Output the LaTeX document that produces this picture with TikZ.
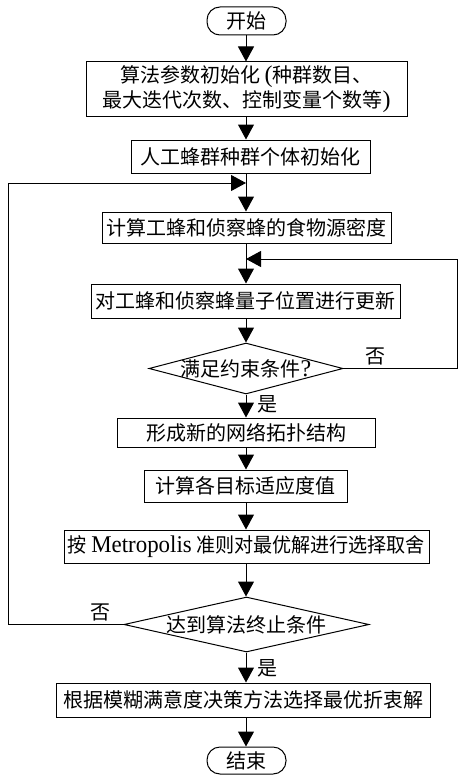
\documentclass[tikz,border=0pt]{standalone}
\usepackage{fontspec}
\usepackage{graphicx}
\setmainfont{Liberation Serif}
\newfontfamily\cjk{Noto Sans CJK SC}
\usetikzlibrary{arrows.meta,shapes.geometric}
\newcommand{\lt}[1]{{\rmfamily\fontsize{24}{24}\selectfont #1}}
\begin{document}
\begin{tikzpicture}[x=1pt,y=-1pt,line width=1pt,
  every node/.style={font=\cjk\fontsize{20}{25}\selectfont},
  proc/.style={draw,rectangle,inner sep=0pt,align=center},
  term/.style={draw,rectangle,rounded corners=13pt,inner sep=0pt},
  dec/.style={draw,diamond,inner sep=0pt},
  arr/.style={-{Triangle[length=15pt,width=16pt]}},
  lbl/.style={inner sep=0pt}]
\useasboundingbox (0,0) rectangle (458,776);
\node[term,minimum width=79pt,minimum height=28pt] (st) at (246.5,21) {开始};
\node[proc,minimum width=321pt,minimum height=54pt] (b1) at (246.5,89) {算法参数初始化 \lt{(}种群数目、\\最大迭代次数、控制变量个数等\lt{)}};
\node[proc,minimum width=239pt,minimum height=33pt] (b2) at (250.5,156.5) {人工蜂群种群个体初始化};
\node[proc,minimum width=289pt,minimum height=31pt] (b3) at (246.5,227.5) {计算工蜂和侦察蜂的食物源密度};
\node[proc,minimum width=309pt,minimum height=34pt] (b4) at (245.5,301) {对工蜂和侦察蜂量子位置进行更新};
\node[dec,minimum width=194pt,minimum height=51pt] (d1) at (246,368.5) {\makebox[0pt]{满足约束条件\lt{?}}};
\node[proc,minimum width=258pt,minimum height=29pt] (b5) at (246,432.5) {形成新的网络拓扑结构};
\node[proc,minimum width=203pt,minimum height=32pt] (b6) at (245.5,486) {计算各目标适应度值};
\node[proc,minimum width=365pt,minimum height=33pt] (b7) at (246.5,546.5) {\resizebox{357pt}{\height}{按 \lt{Metropolis} 准则对最优解进行选择取舍}};
\node[dec,minimum width=245pt,minimum height=55pt] (d2) at (246.5,624.5) {\makebox[0pt]{达到算法终止条件}};
\node[proc,minimum width=374pt,minimum height=34pt] (b8) at (243,700) {根据模糊满意度决策方法选择最优折衷解};
\node[term,minimum width=79pt,minimum height=27pt] (en) at (246.5,760.5) {结束};
\coordinate (ax) at (246,0);
\coordinate (m1) at (246,183);
\coordinate (m2) at (246,259);
\coordinate (l1) at (8,624.5);
\coordinate (l2) at (8,183);
\coordinate (r1) at (457,368.5);
\coordinate (r2) at (457,259);
\draw[arr] (st.south -| ax) -- (b1.north -| ax);
\draw[arr] (b1.south -| ax) -- (b2.north -| ax);
\draw[arr] (b2.south -| ax) -- (b3.north -| ax);
\draw[arr] (b3.south -| ax) -- (b4.north -| ax);
\draw[arr] (b4.south -| ax) -- (d1.north);
\draw[arr] (d1.south) -- (b5.north -| ax);
\draw[arr] (b5.south -| ax) -- (b6.north -| ax);
\draw[arr] (b6.south -| ax) -- (b7.north -| ax);
\draw[arr] (b7.south -| ax) -- (d2.north -| ax);
\draw[arr] (d2.south -| ax) -- (b8.north -| ax);
\draw[arr] (b8.south -| ax) -- (en.north -| ax);
\draw[arr] (d2.west) -- (l1) -- (l2) -- (m1);
\draw[arr] (d1.east) -- (r1) -- (r2) -- (m2);
\node[lbl] (n1) at (375,356) {否};
\node[lbl] (n2) at (100,612) {否};
\node[lbl] (y1) at (267,404) {是};
\node[lbl] (y2) at (267,668) {是};
\end{tikzpicture}
\end{document}
